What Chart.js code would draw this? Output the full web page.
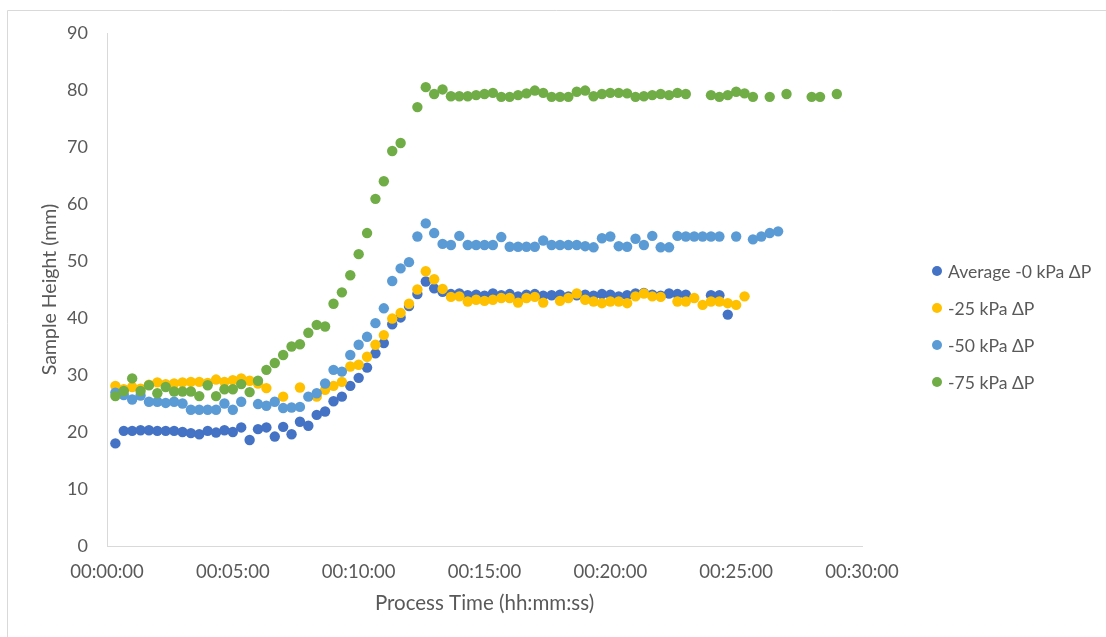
<!DOCTYPE html>
<html>
<head>
<meta charset="utf-8">
<script src="https://cdn.jsdelivr.net/npm/chart.js@4.4.1/dist/chart.umd.min.js"></script>
<style>
  html, body { margin: 0; padding: 0; background: #ffffff; }
  #wrap { position: relative; width: 1106px; height: 637px; }
  canvas { display: block; }
</style>
</head>
<body>
<div id="wrap"><canvas id="c" width="1106" height="637"></canvas></div>
<script>
// ---- Data (time in seconds, height in mm) ----
const seriesNames = ["Average -0 kPa \u0394P", "-25 kPa \u0394P", "-50 kPa \u0394P", "-75 kPa \u0394P"];
const seriesColors = ["#4472C4", "#FFC000", "#5B9BD5", "#70AD47"];

const avgTimes = [20,40,60,80,100,120,140,160,180,200,220,240,260,280,300,320,340,360,380,400,420,440,460,480,500,520,540,560,580,600,620,640,660,680,700,720,740,760,780,800,820,840,860,880,900,920,940,960,980,1000,1020,1040,1060,1080,1100,1120,1140,1160,1180,1200,1220,1240,1260,1280,1300,1320,1340,1360,1380,1440,1460,1480];
const avgValues = [18.0,20.2,20.2,20.3,20.3,20.2,20.2,20.2,20.0,19.8,19.6,20.2,19.9,20.3,20.0,20.8,18.6,20.5,20.8,19.2,20.9,19.6,21.8,21.1,23.0,23.6,25.4,26.2,28.1,29.5,31.3,33.8,35.6,38.9,40.1,42.1,44.2,46.4,45.2,44.6,44.2,44.3,44.0,44.1,43.9,44.3,44.0,44.2,43.8,44.1,44.2,43.9,44.0,44.1,43.8,44.0,44.1,43.9,44.2,44.1,43.8,44.0,44.3,44.4,44.1,43.9,44.3,44.2,44.1,44.0,44.0,40.6];

const p25Times = [20,40,60,80,100,120,140,160,180,200,220,240,260,280,300,320,340,360,380,420,460,500,520,540,560,580,600,620,640,660,680,700,720,740,760,780,800,820,840,860,880,900,920,940,960,980,1000,1020,1040,1080,1100,1120,1140,1160,1180,1200,1220,1240,1260,1280,1300,1320,1360,1380,1400,1420,1440,1460,1480,1500,1520];
const p25Values = [28.1,27.5,27.9,27.6,28.3,28.7,28.4,28.5,28.7,28.8,28.8,28.6,29.2,28.8,29.1,29.4,29.0,28.5,27.7,26.2,27.8,26.2,27.4,28.1,28.8,31.5,31.8,33.2,35.3,37.0,39.9,40.9,42.5,45.0,48.2,46.8,45.1,43.7,43.8,42.9,43.2,43.0,43.2,43.5,43.5,42.7,43.5,43.7,42.7,43.0,43.5,44.3,43.2,42.9,42.6,42.9,42.9,42.6,43.8,44.3,43.8,43.7,42.9,42.9,43.5,42.3,42.9,42.9,42.6,42.3,43.8];

const p50Times = [20,40,60,80,100,120,140,160,180,200,220,240,260,280,300,320,360,380,400,420,440,460,480,500,520,540,560,580,600,620,640,660,680,700,720,740,760,780,800,820,840,860,880,900,920,940,960,980,1000,1020,1040,1060,1080,1100,1120,1140,1160,1180,1200,1220,1240,1260,1280,1300,1320,1340,1360,1380,1400,1420,1440,1460,1500,1540,1560,1580,1600];
const p50Values = [26.9,26.5,25.7,26.4,25.3,25.3,25.1,25.3,25.0,23.9,23.9,23.9,23.9,25.0,23.9,25.3,24.9,24.6,25.3,24.2,24.3,24.4,26.2,26.8,28.5,30.9,30.6,33.5,35.3,36.7,39.1,41.7,46.5,48.7,49.8,54.3,56.6,54.9,53.0,52.8,54.4,52.8,52.8,52.8,52.8,54.2,52.5,52.5,52.5,52.5,53.6,52.8,52.8,52.8,52.8,52.6,52.4,54.0,54.3,52.6,52.5,53.9,52.8,54.4,52.4,52.4,54.4,54.3,54.3,54.3,54.3,54.3,54.3,53.8,54.3,54.9,55.2];

const p75Times = [20,40,60,80,100,120,140,160,180,200,220,240,260,280,300,320,340,360,380,400,420,440,460,480,500,520,540,560,580,600,620,640,660,680,700,740,760,780,800,820,840,860,880,900,920,940,960,980,1000,1020,1040,1060,1080,1100,1120,1140,1160,1180,1200,1220,1240,1260,1280,1300,1320,1340,1360,1380,1440,1460,1480,1500,1520,1540,1580,1620,1680,1700,1740];
const p75Values = [26.3,27.2,29.4,27.2,28.2,26.8,27.9,27.1,27.1,27.1,26.3,28.2,26.3,27.5,27.5,28.4,27.0,29.0,30.9,32.1,33.5,35.0,35.4,37.4,38.8,38.5,42.5,44.5,47.5,51.2,54.9,60.9,64.0,69.3,70.7,77.0,80.5,79.3,80.1,78.9,78.9,78.9,79.1,79.3,79.5,78.8,78.8,79.1,79.4,79.9,79.5,78.8,78.8,78.8,79.7,79.9,78.9,79.3,79.5,79.5,79.4,78.8,78.9,79.1,79.3,79.1,79.5,79.3,79.1,78.8,79.1,79.7,79.4,78.8,78.8,79.3,78.8,78.8,79.3];

const xTickStep = 300;   // 5 minutes
const xMax = 1800;       // 30 minutes
const yMax = 90;
const yTickStep = 10;

const xTitle = "Process Time (hh:mm:ss)";
const yTitle = "Sample Height (mm)";

// ---- helpers ----
function toPoints(ts, vs) { return ts.map((t, i) => ({ x: t, y: vs[i] })); }
function hms(s) {
  const h = Math.floor(s / 3600), m = Math.floor((s % 3600) / 60), sec = Math.round(s % 60);
  const p = n => String(n).padStart(2, "0");
  return p(h) + ":" + p(m) + ":" + p(sec);
}

const FONT = "Lato, 'Open Sans', sans-serif";
const TEXT = "#595959";
const AXIS = "#d9d9d9";

const allTimes = [avgTimes, p25Times, p50Times, p75Times];
const allValues = [avgValues, p25Values, p50Values, p75Values];
const drawOrder = [3, 2, 1, 0]; // later series on top

const datasets = seriesNames.map((name, i) => ({
  label: name,
  data: toPoints(allTimes[i], allValues[i]),
  backgroundColor: seriesColors[i],
  borderColor: seriesColors[i],
  pointRadius: 5.2,
  pointHoverRadius: 5.2,
  borderWidth: 0,
  showLine: false,
  order: drawOrder[i]
}));

const framePlugin = {
  id: "frame",
  beforeDraw(chart) {
    const ctx = chart.ctx;
    ctx.save();
    ctx.strokeStyle = "#d9d9d9";
    ctx.lineWidth = 1;
    ctx.beginPath();
    ctx.moveTo(7.5, 637);
    ctx.lineTo(7.5, 10.5);
    ctx.lineTo(1106, 10.5);
    ctx.stroke();
    ctx.restore();
  }
};

const legendPlugin = {
  id: "customLegend",
  afterDraw(chart) {
    const ctx = chart.ctx;
    const area = chart.chartArea;
    const x0 = area.right + 75;
    const y0 = 271;
    const gap = 37;
    ctx.save();
    ctx.font = "17.6px " + FONT;
    ctx.textBaseline = "middle";
    ctx.textAlign = "left";
    chart.data.datasets.forEach((ds, i) => {
      const y = y0 + i * gap;
      ctx.fillStyle = ds.backgroundColor;
      ctx.beginPath();
      ctx.arc(x0, y, 5, 0, Math.PI * 2);
      ctx.fill();
      ctx.fillStyle = TEXT;
      ctx.fillText(ds.label, x0 + 11, y + 1);
    });
    ctx.restore();
  }
};

new Chart(document.getElementById("c"), {
  type: "scatter",
  data: { datasets },
  plugins: [framePlugin, legendPlugin],
  options: {
    responsive: false,
    animation: false,
    events: [],
    layout: { padding: { left: 0, right: 244, top: 33, bottom: 0 } },
    plugins: {
      legend: { display: false },
      tooltip: { enabled: false },
      title: { display: false }
    },
    scales: {
      x: {
        type: "linear",
        min: 0,
        max: xMax,
        afterFit(scale) { scale.height = 91; },
        afterBuildTicks(scale) {
          const t = [];
          for (let v = 0; v <= xMax; v += xTickStep) t.push({ value: v });
          scale.ticks = t;
        },
        ticks: {
          callback: v => hms(v),
          color: TEXT,
          font: { family: FONT, size: 18.5 },
          padding: 15,
          maxRotation: 0,
          autoSkip: false
        },
        grid: { display: false, drawTicks: false },
        border: { display: true, color: AXIS, width: 1 },
        title: {
          display: true,
          text: xTitle,
          color: TEXT,
          font: { family: FONT, size: 20.5 },
          padding: { top: 0, bottom: 21 }
        }
      },
      y: {
        type: "linear",
        min: 0,
        max: yMax,
        afterFit(scale) { scale.width = 107; },
        ticks: {
          stepSize: yTickStep,
          color: TEXT,
          font: { family: FONT, size: 18 },
          padding: 19
        },
        grid: { display: false, drawTicks: false },
        border: { display: true, color: AXIS, width: 1 },
        title: {
          display: true,
          text: yTitle,
          color: TEXT,
          font: { family: FONT, size: 19.5 },
          padding: { top: 38, bottom: 0 }
        }
      }
    }
  }
});
</script>
</body>
</html>
